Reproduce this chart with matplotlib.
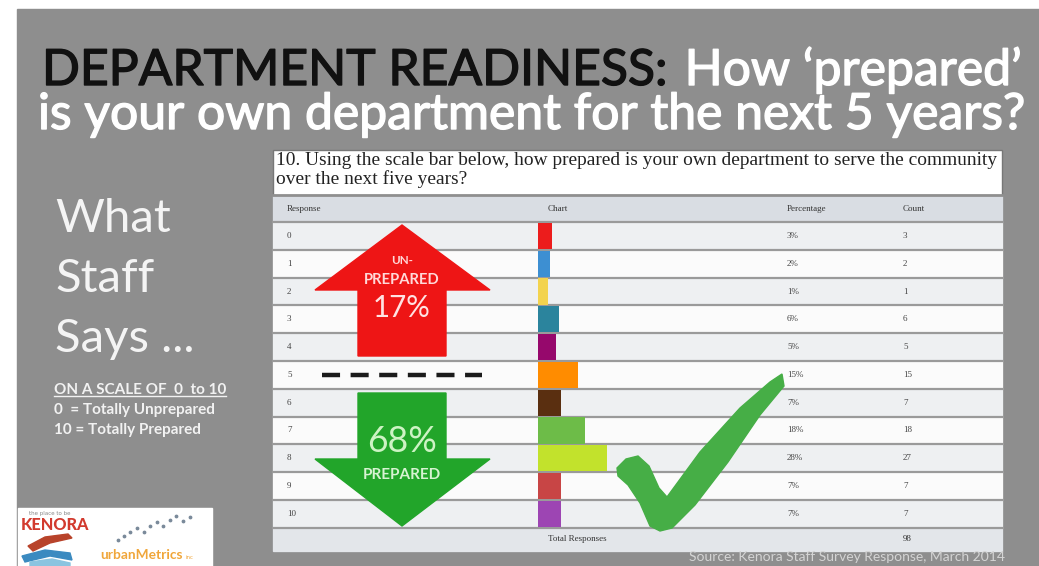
import matplotlib
matplotlib.use("Agg")
import matplotlib.pyplot as plt
import matplotlib.patheffects as pe
from matplotlib.patches import Polygon, Rectangle
from matplotlib.lines import Line2D

plt.rcParams["lines.scale_dashes"] = False

# ---- survey data -------------------------------------------------------
responses = [str(i) for i in range(11)]
percentages = [3, 2, 1, 6, 5, 15, 7, 18, 28, 7, 7]
counts = [3, 2, 1, 6, 5, 15, 7, 18, 27, 7, 7]
total_responses = 98
bar_colors = ["#ec1c1c", "#3d8fd2", "#f3d34e", "#2b849d", "#96086c",
              "#ff8c00", "#5a2f10", "#6dbc48", "#c2e22c", "#c84545", "#9d45b3"]
unprepared_share = "17%"
prepared_share = "68%"

W, H = 1039, 566
fig = plt.figure(figsize=(W / 100, H / 100), dpi=100)
fig.patch.set_facecolor("white")
ax = fig.add_axes([0, 0, 1, 1])
ax.set_xlim(0, W)
ax.set_ylim(H, 0)
ax.axis("off")
renderer = fig.canvas.get_renderer()


def fit(x, y, s, width, fs0=20, **kw):
    t = ax.text(x, y, s, fontsize=fs0, **kw)
    bb = t.get_window_extent(renderer)
    t.set_fontsize(fs0 * width / bb.width)
    return t


def thick(color, w):
    return [pe.Stroke(linewidth=w, foreground=color), pe.Normal()]


# slide background
ax.add_patch(Rectangle((17, 9), W - 17, H - 9, color="#8e8e8e", zorder=0))

# ---- title ---------------------------------------------------------------
title_font = dict(family="Lato", fontweight="regular")
t2 = fit(38, 129, "is your own department for the next 5 years?", 990,
         color="white", va="baseline", ha="left",
         path_effects=thick("white", 1.0), **title_font)
fs_title = t2.get_fontsize()
ax.text(42, 85, "DEPARTMENT READINESS:", fontsize=fs_title, color="#111111",
        va="baseline", ha="left", path_effects=thick("#111111", 1.0), **title_font)
ax.text(1022, 85, "How \u2018prepared\u2019", fontsize=fs_title, color="white",
        va="baseline", ha="right", path_effects=thick("white", 1.0), **title_font)

# ---- left column -------------------------------------------------------
side_font = dict(family="Lato", fontweight="regular", color="#f4f4f4")
t = fit(55, 232, "What", 116, va="baseline", ha="left", **side_font)
fs_side = t.get_fontsize()
ax.text(55, 292, "Staff", fontsize=fs_side, va="baseline", ha="left", **side_font)
ax.text(55, 352, "Says ...", fontsize=fs_side, va="baseline", ha="left", **side_font)

scale_font = dict(family="Lato", fontweight="bold", color="#f2f2f2")
t = fit(54, 394, "ON A SCALE OF  0  to 10", 172, va="baseline", ha="left", **scale_font)
fs_scale = t.get_fontsize()
bb = t.get_window_extent(renderer)
ax.plot([54, 54 + bb.width], [396, 396], color="#f2f2f2", lw=1)
ax.text(54, 414, "0  = Totally Unprepared", fontsize=fs_scale, va="baseline", ha="left", **scale_font)
ax.text(54, 434, "10 = Totally Prepared", fontsize=fs_scale, va="baseline", ha="left", **scale_font)

# ---- logo block ---------------------------------------------------------
ax.add_patch(Rectangle((18, 508), 194, 58, color="white", zorder=1))
ax.text(50, 514, "the place to be", fontsize=4, color="#888888", ha="center", va="center", zorder=2)
fit(21, 530, "KENORA", 68, color="#d23a2e", va="baseline", ha="left",
    family="Lato", fontweight="black", zorder=2)
ax.add_patch(Polygon([(28, 546), (45, 537), (68, 534), (72, 538), (50, 543), (33, 551)],
                     closed=True, color="#b8432a", zorder=2))
ax.add_patch(Polygon([(22, 556), (45, 550), (70, 553), (72, 560), (50, 556), (25, 562)],
                     closed=True, color="#3b8ac0", zorder=2))
ax.add_patch(Polygon([(30, 562), (52, 559), (70, 563), (70, 566), (30, 566)],
                     closed=True, color="#8bc4e0", zorder=2))
fit(100, 559, "urbanMetrics", 82, color="#f0a63a", va="baseline", ha="left",
    family="Lato", fontweight="bold", zorder=2)
ax.text(186, 559, "inc", fontsize=4, color="#f0a63a", va="baseline", zorder=2)
dot_x = [118, 124, 130, 137, 144, 150, 157, 163, 170, 176, 183, 190]
dot_y = [540, 536, 532, 528, 532, 526, 522, 526, 520, 516, 521, 517]
ax.scatter(dot_x, dot_y, s=3, color="#7a8a9a", zorder=2)

# ---- survey table -------------------------------------------------------
tl, tr = 273, 1002
ax.add_patch(Rectangle((tl, 150), tr - tl, 401, facecolor="white",
                       edgecolor="#777777", lw=1.0, zorder=1))
serif = dict(family="Liberation Serif", color="#222222", zorder=3)
tq = fit(276, 165, "10. Using the scale bar below, how prepared is your own department to serve the community",
         721, va="baseline", ha="left", **serif)
ax.text(276, 184, "over the next five years?",
        fontsize=tq.get_fontsize(), va="baseline", ha="left", **serif)

# header band
ax.add_patch(Rectangle((tl, 195), tr - tl, 27, color="#d9dde3", zorder=1.5))
ax.plot([tl, tr], [195, 195], color="#8f8f8f", lw=2, zorder=2)
hdr = dict(family="Liberation Serif", color="#333333", fontsize=6.5, va="center", ha="left", zorder=3)
ax.text(287, 209, "Response", **hdr)
ax.text(548, 209, "Chart", **hdr)
ax.text(787, 209, "Percentage", **hdr)
ax.text(903, 209, "Count", **hdr)

row_top, row_h = 222.0, 27.8
for i, (r, p, c) in enumerate(zip(responses, percentages, counts)):
    y0 = row_top + i * row_h
    ax.add_patch(Rectangle((tl, y0), tr - tl, row_h,
                           color="#eef0f2" if i % 2 == 0 else "#fbfbfb", zorder=1.5))
    ax.plot([tl, tr], [y0, y0], color="#9a9a9a", lw=1.6, zorder=2)
    yc = y0 + row_h / 2
    cell = dict(family="Liberation Serif", color="#444444", fontsize=6.5, va="center", ha="left", zorder=3)
    ax.text(287, yc, r, **cell)
    ax.text(787, yc, f"{p}%", **cell)
    ax.text(903, yc, str(c), **cell)
y_end = row_top + len(responses) * row_h
ax.plot([tl, tr], [y_end, y_end], color="#9a9a9a", lw=1.6, zorder=2)
ax.add_patch(Rectangle((tl, y_end), tr - tl, 551 - y_end, color="#e3e6ea", zorder=1.5))
ax.text(548, (y_end + 551) / 2, "Total Responses", family="Liberation Serif",
        color="#333333", fontsize=6.5, va="center", ha="left", zorder=3)
ax.text(903, (y_end + 551) / 2, str(total_responses), family="Liberation Serif",
        color="#333333", fontsize=6.5, va="center", ha="left", zorder=3)

# ---- bar chart column ---------------------------------------------------
stub = 3.4            # minimum visible bar length, in percent units
px_per_pct = 2.2
bx0, bx1 = 538, 780
bax = fig.add_axes([bx0 / W, 1 - y_end / H, (bx1 - bx0) / W, (y_end - row_top) / H])
bax.set_xlim(-stub, -stub + (bx1 - bx0) / px_per_pct)
bax.set_ylim(len(responses) - 0.5, -0.5)
bax.barh(range(len(responses)), [p + stub for p in percentages], left=-stub,
         height=0.94, color=bar_colors)
bax.axis("off")
bax.patch.set_alpha(0)

# ---- arrows --------------------------------------------------------------
red = "#ee1515"
green = "#22a52a"
ax.add_patch(Polygon([(402, 225), (490, 290), (446, 290), (446, 356),
                      (358, 356), (358, 290), (315, 290)], closed=True,
                     color=red, zorder=4))
ax.add_patch(Polygon([(402, 526), (490, 459), (446, 459), (446, 393),
                      (358, 393), (358, 459), (315, 459)], closed=True,
                     color=green, zorder=4))
lbl = dict(family="Lato", fontweight="bold", ha="center", va="center", zorder=5)
fit(402, 260, "UN-", 22, color="#ffd9d9", **lbl)
fit(402, 280, "PREPARED", 76, color="#ffd9d9", **lbl)
fit(402, 308, unprepared_share, 58, color="#ffe2e2", family="Lato", ha="center", va="center", zorder=5)
fit(402, 442, prepared_share, 70, color="#cdf3c4", family="Lato", ha="center", va="center", zorder=5)
fit(402, 475, "PREPARED", 78, color="#d7f3d2", **lbl)

ax.add_line(Line2D([322, 482], [375, 375], color="#1b1b1b", lw=3.2,
                   dashes=(13, 7.6), solid_capstyle="butt", dash_capstyle="butt", zorder=4))

# check mark
check = [(617, 468), (626, 459), (638, 456), (649, 466), (659, 488), (667, 497),
         (700, 452), (740, 408), (770, 382), (782, 374), (784, 386),
         (760, 415), (728, 462), (695, 505), (672, 528), (660, 531),
         (650, 526), (640, 503), (628, 485), (618, 476)]
ax.add_patch(Polygon(check, closed=True, color="#46ae46", zorder=4))

# source line
fit(1005, 561, "Source: Kenora Staff Survey Response, March 2014", 316,
    color="#d4d4d4", family="Lato", ha="right", va="baseline", zorder=3)

fig.savefig("out.png", dpi=100)
